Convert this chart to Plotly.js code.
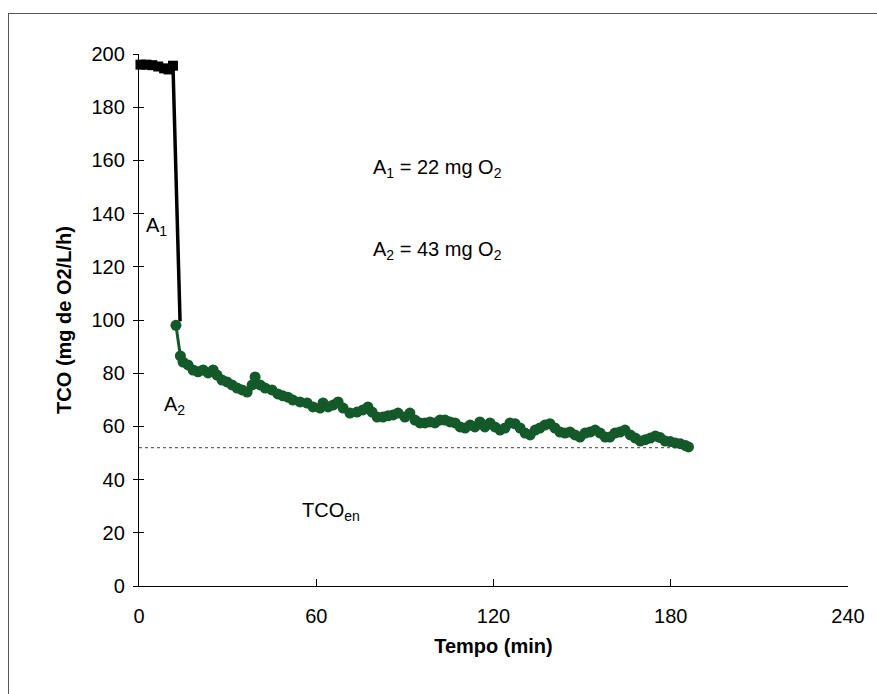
<!DOCTYPE html>
<html>
<head>
<meta charset="utf-8">
<script src="https://cdn.plot.ly/plotly-3.0.1.min.js"></script>
<style>
  html, body { margin: 0; padding: 0; background: #fff; }
  #wrap { position: relative; width: 877px; height: 694px; overflow: hidden; }
  #chart { width: 877px; height: 694px; }
  #frame { position: absolute; left: 8px; top: 13px; width: 900px; height: 700px;
           border-left: 1.5px solid #555; border-top: 1.5px solid #555; pointer-events: none; }
</style>
</head>
<body>
<div id="wrap">
  <div id="chart"></div>
  <div id="frame"></div>
</div>
<script>
// Phase 1 (black squares): before the drop
const phase1Time = [-1.5, 0.5, 2.5, 4.5, 6.5, 8.5, 10.0, 11.5, 13.9];
const phase1TCO  = [195.8, 196.0, 196.0, 195.8, 195.3, 194.6, 194.2, 195.6, 99.5];

// Phase 2 (green circles): decay
const phase2Time = [12.5, 14.0, 14.9, 16.6, 18.3, 20.0, 21.7, 23.4, 25.1, 26.4, 28.1, 29.8, 31.5, 33.2, 34.9, 36.6,
  38.3, 39.3, 41.0, 42.7, 45.0, 47.0, 48.7, 50.4, 52.1, 54.5, 56.9, 58.9, 61.3, 62.3, 64.0, 65.7, 67.4, 69.1,
  71.4, 73.8, 75.8, 77.5, 78.9, 80.6, 82.6, 84.3, 86.0, 87.7, 90.0, 91.7, 93.4, 95.1, 96.8, 98.5, 100.2, 101.9,
  103.6, 105.3, 107.0, 108.7, 110.4, 112.1, 113.7, 115.4, 117.1, 118.8, 120.5, 122.2, 123.9, 125.6, 127.3, 129.0,
  130.7, 132.4, 134.1, 135.7, 137.4, 139.1, 140.8, 142.5, 144.2, 145.9, 147.6, 149.3, 151.0, 152.7, 154.4, 156.1,
  157.8, 159.4, 161.1, 162.8, 164.5, 166.3, 168.0, 169.7, 171.4, 173.1, 174.8, 176.4, 178.1, 179.8, 181.5, 183.2,
  185.0, 186.0];
const phase2TCO = [98.0, 86.5, 84.2, 83.1, 81.2, 80.5, 81.2, 80.1, 81.2, 79.3, 77.4, 76.7, 75.6, 74.4, 73.7, 72.9,
  75.6, 78.6, 75.6, 74.4, 73.7, 72.2, 71.5, 71.0, 69.9, 69.2, 68.8, 67.3, 66.9, 68.8, 67.3, 68.0, 69.2, 66.9,
  65.0, 65.4, 66.2, 67.3, 65.4, 63.5, 63.5, 64.0, 64.3, 65.0, 63.5, 65.0, 62.4, 61.3, 61.3, 61.7, 61.3, 62.4,
  62.4, 61.7, 61.3, 59.8, 59.4, 60.5, 59.8, 61.7, 59.8, 61.3, 59.8, 58.6, 59.4, 61.3, 61.0, 59.4,
  57.5, 56.8, 58.6, 59.4, 60.5, 61.0, 59.4, 57.9, 57.5, 57.9, 56.8, 56.0, 57.5, 57.9, 58.6, 57.5,
  56.0, 56.0, 57.5, 57.9, 58.6, 56.8, 55.6, 54.5, 55.0, 55.6, 56.4, 55.8, 54.5, 54.3, 53.8, 53.5,
  52.8, 52.3];

// Endogenous TCO reference level (dotted line) and its time span
const tcoEn = [52];
const tcoEnSpan = [0, 185];

const xTicks = [0, 60, 120, 180, 240];
const yTicks = [0, 20, 40, 60, 80, 100, 120, 140, 160, 180, 200];

const FONT = 'Liberation Sans, Arial, Helvetica, sans-serif';
const GREEN = '#14592a';

const traces = [
  {
    x: [tcoEnSpan[0], tcoEnSpan[1]], y: [tcoEn[0], tcoEn[0]],
    mode: 'lines', line: {color: '#666', width: 1.2, dash: 'dot'},
    hoverinfo: 'skip', showlegend: false
  },
  // phase 1 connecting line (including the drop)
  {
    x: phase1Time, y: phase1TCO, mode: 'lines',
    line: {color: '#000', width: 3.5},
    showlegend: false
  },
  // phase 1 square markers (all points except the bottom of the drop)
  {
    x: phase1Time.slice(0, -1), y: phase1TCO.slice(0, -1), mode: 'markers',
    marker: {symbol: 'square', size: 10, color: '#000', opacity: 1},
    cliponaxis: false, showlegend: false
  },
  {
    x: phase2Time, y: phase2TCO, mode: 'lines+markers',
    line: {color: GREEN, width: 3},
    marker: {symbol: 'circle', size: 11, color: GREEN},
    cliponaxis: false, showlegend: false
  }
];

const layout = {
  width: 877, height: 694,
  margin: {l: 139, r: 29, t: 54, b: 108},
  paper_bgcolor: '#fff', plot_bgcolor: '#fff',
  font: {family: FONT, color: '#000', size: 20},
  showlegend: false,
  xaxis: {
    range: [0, 240], tickvals: xTicks, ticktext: xTicks.map(String),
    ticks: 'inside', ticklen: 7, tickcolor: '#000', tickwidth: 1,
    showline: true, linecolor: '#000', linewidth: 1.2,
    showgrid: false, zeroline: false,
    tickfont: {family: FONT, size: 20, color: '#000'},
    ticklabelstandoff: 12,
    title: {text: 'Tempo (min)', font: {family: FONT, size: 20, color: '#000', weight: 'bold'}, standoff: 12}
  },
  yaxis: {
    range: [0, 200], tickvals: yTicks, ticktext: yTicks.map(String),
    ticks: 'outside', ticklen: 5, tickcolor: '#000', tickwidth: 1,
    showline: true, linecolor: '#000', linewidth: 1.2,
    showgrid: false, zeroline: false,
    tickfont: {family: FONT, size: 20, color: '#000'},
    ticklabelstandoff: 4,
    title: {text: 'TCO (mg de O2/L/h)', font: {family: FONT, size: 20, color: '#000', weight: 'bold'}, standoff: 14}
  },
  yaxis2: {
    range: [0, 200], overlaying: 'y', side: 'left', tickvals: yTicks,
    ticks: 'inside', ticklen: 5, tickcolor: '#000', tickwidth: 1,
    showticklabels: false, showline: false, showgrid: false, zeroline: false
  },
  annotations: [
    {x: 6, y: 135, xref: 'x', yref: 'y', text: 'A<sub>1</sub>', showarrow: false, font: {size: 20}},
    {x: 12, y: 68, xref: 'x', yref: 'y', text: 'A<sub>2</sub>', showarrow: false, font: {size: 20}},
    {x: 101, y: 157, xref: 'x', yref: 'y', text: 'A<sub>1</sub> = 22 mg O<sub>2</sub>', showarrow: false, font: {size: 20}},
    {x: 101, y: 126, xref: 'x', yref: 'y', text: 'A<sub>2</sub> = 43 mg O<sub>2</sub>', showarrow: false, font: {size: 20}},
    {x: 65, y: 28, xref: 'x', yref: 'y', text: 'TCO<sub>en</sub>', showarrow: false, font: {size: 20}}
  ]
};

// invisible trace to anchor the overlay axis (used only for the crossing y ticks)
traces.push({x: [0], y: [0], yaxis: 'y2', mode: 'markers', marker: {opacity: 0}, hoverinfo: 'skip', showlegend: false});

Plotly.newPlot('chart', traces, layout, {displayModeBar: false, staticPlot: true});
</script>
</body>
</html>
